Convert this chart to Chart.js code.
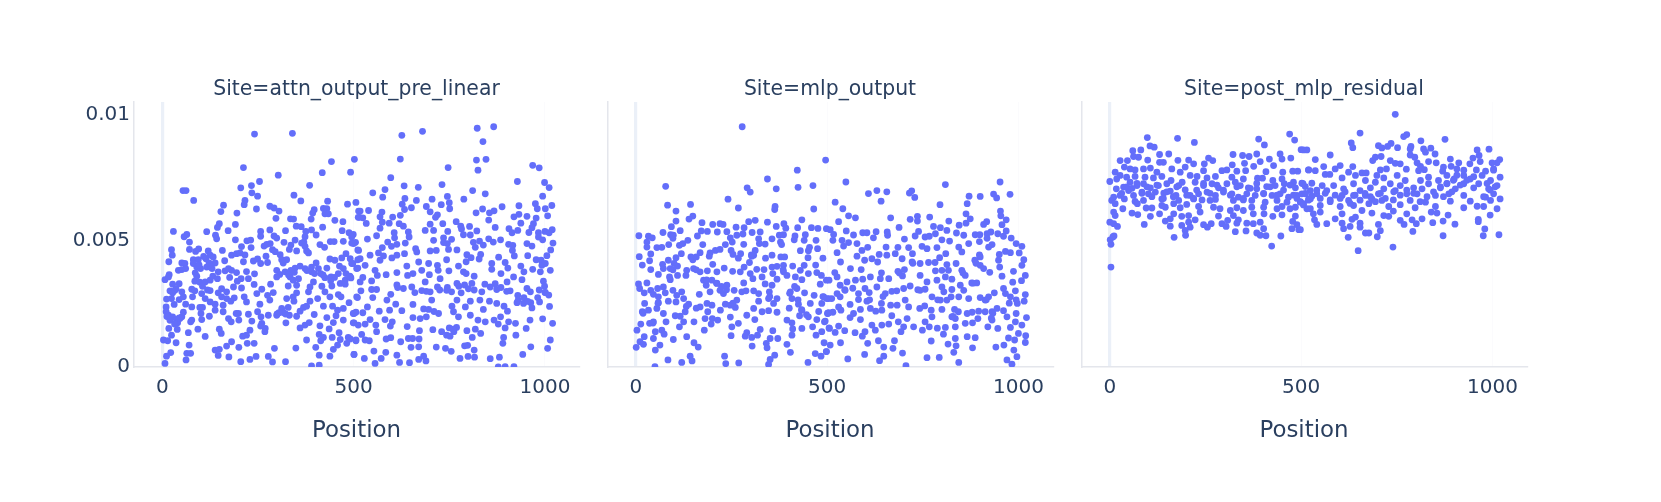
<!DOCTYPE html>
<html><head><meta charset="utf-8">
<script src="https://cdn.jsdelivr.net/npm/chart.js@4/dist/chart.umd.js"></script>
<style>html,body{margin:0;padding:0;background:#fff;width:1661px;height:502px;overflow:hidden}canvas{position:absolute;top:0}</style>
</head><body>
<canvas id="c0"></canvas><canvas id="c1"></canvas><canvas id="c2"></canvas>
<script>
// Point values: [Position, value in thousandths]
const attnPoints=[[241,9.23],[340,9.26],[442,8.14],[502,8.23],[212,7.9],[303,7.6],[418,7.7],[492,7.72],[254,7.35],[233,7.19],[205,7.1],[385,7.2],[54,6.99],[62,6.99],[82,6.6],[234,6.9],[249,6.77],[344,6.81],[216,6.6],[214,6.43],[362,6.58],[432,6.57],[484,6.45],[506,6.52],[160,6.41],[153,6.16],[195,6.1],[246,6.26],[281,6.37],[292,6.3],[305,6.18],[397,6.23],[393,6.1],[421,6.28],[430,6.27],[425,6.07],[434,6.07],[513,6.18],[512,5.93],[297,5.89],[335,5.87],[343,5.86],[389,5.86],[451,5.81],[472,5.76],[149,5.68],[144,5.53],[191,5.65],[350,5.58],[363,5.56],[419,5.54],[29,5.37],[116,5.36],[172,5.4],[257,5.37],[281,5.43],[322,5.4],[375,5.37],[390,5.43],[470,5.4],[488,5.32],[499,5.25],[64,5.25],[57,5.16],[71,4.95],[139,5.22],[142,5.08],[257,5.18],[292,5.19],[299,5.11],[402,5.23],[191,5.04],[221,5],[231,5.03],[347,5.03],[373,5.16],[370,4.95],[439,4.97],[449,4.97],[473,4.98],[495,4.91],[505,4.94],[511,4.64],[24,4.65],[26,4.43],[71,4.66],[87,4.58],[95,4.68],[120,4.6],[125,4.43],[157,4.62],[207,4.77],[232,4.73],[266,4.79],[273,4.86],[282,4.89],[288,4.65],[295,4.57],[318,4.94],[336,4.83],[332,4.66],[351,4.6],[364,4.91],[373,4.78],[377,4.6],[382,4.52],[412,4.85],[424,4.74],
[17,4.17],[51,4.12],[59,4.1],[81,4.25],[94,4.25],[114,4.29],[133,4.36],[138,4.12],[163,4.21],[181,4.43],[194,4.49],[203,4.52],[216,4.44],[212,4.17],[238,4.2],[249,4.28],[271,4.39],[257,4.1],[275,4.14],[308,4.45],[312,4.25],[325,4.25],[316,4.12],[438,4.28],[451,4.23],[469,4.32],[480,4.49],[491,4.29],[498,4.1],[511,4.25],[42,3.83],[51,3.86],[61,3.9],[81,4.1],[90,3.96],[86,3.73],[100,3.9],[116,3.96],[126,3.96],[122,4.12],[146,3.77],[164,3.81],[173,3.9],[181,3.83],[194,3.74],[220,3.78],[241,3.69],[299,3.83],[307,3.67],[321,3.77],[336,3.83],[347,3.92],[360,4],[373,3.9],[390,3.96],[402,4.12],[408,3.9],[430,3.92],[463,4],[473,3.9],[508,3.9],[18,3.66],[7,3.46],[16,3.57],[27,3.28],[85,3.4],[98,3.36],[112,3.37],[125,3.44],[132,3.6],[144,3.5],[206,3.5],[225,3.5],[240,3.27],[186,3.17],[207,3.13],[299,3.57],[334,3.57],[342,3.44],[356,3.5],[390,3.77],[414,3.7],[425,3.54],[441,3.57],[460,3.7],[465,3.31],[478,3.44],[491,3.57],[351,3.24],[329,3.21],[395,3.37],[386,3.17],[417,3.2],[443,3.21],[478,3.28],[517,3.37],[20,3.02],[27,2.94],[33,3.04],[51,2.98],[77,3.08],[85,3.02],[103,2.91],[125,3.03],[146,2.94],[155,3.1],[168,2.98],[260,3.08],[283,3.28],[247,2.91],[290,2.95],[351,2.94],[382,2.98],[425,2.98],[24,2.71],[11,2.69],[44,2.67],[55,2.78],[79,2.78],[112,2.71],[168,2.71],[179,2.61],[188,2.74],[214,2.78],[220,2.58],[275,2.84],[281,2.65],[325,2.71],[342,2.78],[344,2.61],[438,2.78],[460,2.87],[467,2.78],[386,2.61],[406,2.71],[508,2.78],[31,2.48],[61,2.49],[77,2.38],[98,2.36],[105,2.36],[125,2.58],[138,2.49],[159,2.45],[255,2.49],[329,2.36],[488,2.55],[421,2.41],[445,2.41],[10,2.38],[10,2.19],[16,2.05],[27,1.99],[37,1.86],[51,1.99],[55,2.17],[46,1.92],[40,1.75],[101,2.12],[123,2.01],[138,2.25],[159,2.19],[193,2.12],[199,2.12],[225,2.09],[249,2.19],[258,1.99],[277,2.05],[299,2.05],[312,2.32],[316,2.16],[332,2.05],[351,2.01],[360,2.21],[369,2.36],[377,2.41],[397,2.08],[430,1.96],[458,2.25],[473,2.32],[454,2.03],[499,2.12],[506,2.17],[77,1.86],[74,1.79],[103,1.88],[173,1.92],[180,1.79],[200,1.86],[234,1.82],[260,1.73],[269,1.53],[268,1.4],[257,1.62],[323,1.75],[373,1.66],[384,1.76],[360,1.55],[412,1.63],[447,1.76],[473,1.86],[501,1.75],[512,1.66],[17,1.53],[39,1.49],[68,1.36],[93,1.5],[112,1.21],[149,1.5],[154,1.33],[229,1.46],[220,1.26],[210,1.22],[436,1.51],[462,1.36],[410,1.29],[444,1.17],[421,1.17],[486,1.17],[377,1.07],[3,1.07],[14,1.04],[24,1.26],[36,.96],[70,.87],[414,1.04],[465,1.09],[506,1.07],[181,1],[168,.83],[200,.78],[222,.94],[240,.94],[293,.74],[349,.75],[401,.78],[458,.87],[447,.7],[482,.94],[138,.67],[149,.7],[64,.54],[74,.54],[22,.57],[11,.43],[146,.46],[174,.4],[62,.28],[7,.14],[205,.21],[229,.3],[245,.42],[277,.42],[288,.2],[322,.21],[410,.47],[438,.43],[501,.5],[390,.04],[410,.07],
[626,9.18],[680,9.34],[823,9.46],[866,9.52],[838,8.93],[622,8.24],[821,8.2],[846,8.23],[747,7.9],[825,7.8],[968,7.99],[985,7.89],[597,7.5],[928,7.35],[999,7.31],[1011,7.11],[632,7.18],[669,7.12],[731,7.23],[811,6.99],[844,6.86],[550,6.9],[582,7.03],[576,6.73],[634,6.68],[664,6.6],[705,6.65],[745,6.76],[788,6.65],[750,6.51],[994,6.77],[627,6.45],[633,6.24],[651,6.31],[690,6.36],[700,6.15],[729,6.43],[751,6.27],[837,6.26],[820,6.11],[855,6.11],[867,6.19],[888,6.35],[932,6.39],[975,6.47],[980,6.27],[1001,6.27],[1018,6.4],[1007,5.99],[517,6.18],[539,6.2],[515,5.93],[524,5.91],[533,5.69],[574,6.14],[569,5.95],[602,5.94],[622,6.01],[593,5.7],[575,5.74],[719,6.03],[714,5.93],[853,5.82],[919,5.95],[932,6.05],[953,5.97],[977,5.9],[937,5.7],[970,5.68],[966,5.52],[768,5.76],[733,5.68],[700,5.66],[780,5.58],[782,5.47],[803,5.57],[870,5.53],[822,5.39],[906,5.48],[914,5.32],[929,5.41],[958,5.33],[1019,5.44],[1000,5.37],[1011,5.32],[983,5.32],[619,5.68],[630,5.58],[569,5.5],[560,5.2],[606,5.32],[643,5.35],[687,5.41],[709,5.41],[746,5.37],[787,5.24],[805,5.23],[536,5.07],[495,5.15],[607,5.12],[645,5.15],[709,5.02],[735,5.12],[756,5.06],[853,5.08],[884,5.04],[813,4.94],[829,4.99],[839,4.83],[865,4.95],[818,4.74],[905,4.86],[916,4.82],[953,4.89],[966,4.79],[983,5.15],[994,5.04],[1021,4.91],[1015,4.64],[589,4.95],[575,4.73],[599,4.78],[613,4.86],[635,4.91],[662,4.69],[665,4.56],[700,4.6],[716,4.62],[745,4.89],[735,4.93],[770,4.64],[748,4.66],[500,4.89],[513,4.62],[517,4.29],[543,4.43],[565,4.52],[578,4.4],[600,4.32],[613,4.43],[633,4.49],[796,4.45],[807,4.33],[832,4.46],[828,4.28],[879,4.35],[915,4.62],[920,4.4],[955,4.41],[1005,4.41],[977,4.25],[990,4.23],[495,4.1],[530,4.03],[569,4.23],[556,3.83],[511,3.92],[639,4],[670,4.16],[696,4.1],[678,3.83],[719,4.03],[743,4.25],[774,4],[794,4.17],[861,4.1],[896,4.14],[937,4],[968,3.87],[992,4.03],[1014,3.83],[861,3.87],[903,3.92],[945,3.77],[988,3.77],[1001,4.1],[613,3.74],[641,3.63],[585,3.66],[562,3.63],[524,3.55],[493,3.53],[547,3.41],[655,3.7],[698,3.66],[687,3.37],[721,3.83],[726,3.5],[749,3.81],[787,3.77],[794,3.7],[815,3.6],[809,3.31],[885,3.7],[918,3.57],[901,3.37],[940,3.46],[996,3.4],[770,3.31],[999,3.2],[613,3.25],[630,3.11],[652,3.17],[678,3.03],[700,2.98],[719,3.17],[743,3.04],[756,2.98],[781,2.94],[547,3.07],[519,3.02],[560,3.07],[510,2.75],[550,2.75],[597,2.88],[587,2.65],[843,3.28],[857,3.17],[835,2.98],[874,3.07],[909,3.02],[953,3.11],[962,2.98],[1001,2.96],[981,2.75],[929,2.84],[704,2.65],[770,2.65],[805,2.61],[792,2.38],[757,2.41],[830,2.65],[855,2.61],[874,2.52],[893,2.41],[927,2.55],[944,2.52],[963,2.55],[986,2.58],[1012,2.4],[839,2.28],[902,2.21],[966,2.34],[536,2.38],[610,2.49],[655,2.48],[594,2.25],[626,2.23],[567,2.21],[524,2.15],[501,2.12],[683,2.3],[696,2.28],[655,1.96],[674,1.92],[690,1.99],[722,2.12],[761,2.19],[774,1.99],[805,2.05],[582,1.88],[601,1.79],[543,1.88],[499,1.75],[530,1.7],[558,1.66],[596,1.62],[825,1.86],[844,1.79],[867,1.86],[884,1.99],[905,1.79],[923,1.73],[961,1.86],[994,1.91],[1020,1.73],[878,1.7],[896,1.55],[672,1.44],[707,1.48],[730,1.4],[743,1.26],[769,1.57],[762,1.4],[752,1.22],[796,1.44],[818,1.5],[832,1.33],[951,1.53],[924,1.26],[560,1.4],[521,1.29],[530,1.07],[541,1.04],[491,1.11],[585,1.11],[597,1.16],[506,1.04],[623,1],[643,1.13],[654,1.13],[671,1.11],[810,1.17],[892,1.17],[890,.94],[1014,1.07],[670,.8],[650,.78],[716,.79],[740,.74],[755,.62],[790,.84],[798,.86],[815,.67],[963,.8],[1007,.74],[553,.63],[584,.58],[501,.5],[613,.47],[942,.5],[528,.34],[572,.34],[670,.3],[683,.43],[689,.24],[556,.14],[620,.18],[646,.17],[778,.34],[799,.42],[816,.39],[857,.33],[881,.39],[896,.01],[878,0],[919,.01]];
const attnClumps=[[12,2],[20,1.85],[32,1.7],[44,1.95],[36,3.1],[44,3.3],[90,3.6],[105,3.2],[118,3.05],[130,3.9],[96,4.05],[108,4.38],[176,3.55],[196,3.4],[155,2.78],[330,3.65],[345,3.75],[300,2.1],[305,2.15],[322,2.1],[378,3.82],[398,3.7],[420,3.65],[450,3.55],[440,3.42],[480,3.7],[490,3.6],[615,3.15],[660,2.95],[690,3],[725,3.05],[745,3.15],[775,3.2],[790,3.25],[800,3.1],[815,3.05],[930,2.65],[945,2.75],[955,2.6],[900,3],[870,3.3],[885,3.15],[1000,2.95],[985,3.05],[1010,2.85],[640,1.6],[710,2.2],[750,1.55],[760,1.5]];

const mlpPoints=[[278,9.52],[496,8.2],[422,7.8],[344,7.45],[78,7.16],[291,7.1],[299,6.93],[367,7.06],[424,7.12],[463,7.19],[241,6.65],[83,6.41],[143,6.44],[268,6.3],[364,6.36],[363,6.24],[465,6.26],[105,6.18],[149,5.98],[139,5.86],[105,5.78],[93,5.56],[173,5.72],[201,5.65],[220,5.68],[228,5.65],[295,5.76],[312,5.81],[344,5.74],[434,5.83],[387,5.68],[262,5.54],[283,5.52],[367,5.57],[392,5.5],[423,5.52],[459,5.52],[476,5.49],[498,5.48],[8,5.2],[71,5.33],[116,5.4],[171,5.39],[187,5.37],[213,5.35],[238,5.36],[280,5.27],[304,5.33],[325,5.35],[91,5.24],[98,5.22],[33,5.18],[43,5.12],[29,4.95],[161,5.19],[264,5.22],[247,5.12],[321,5.08],[386,5.24],[375,5.22],[416,5.19],[443,5.24],[414,5.04],[440,5.02],[471,5.02],[356,5.08],[97,5.1],[136,5.02],[114,4.82],[123,4.89],[86,4.85],[29,4.75],[55,4.73],[68,4.74],[175,4.85],[234,4.85],[252,4.95],[282,4.86],[338,4.87],[323,4.89],[378,4.95],[381,4.85],[454,4.74],[475,4.69],[119,4.49],[39,4.48],[9,4.37],[36,4.21],[17,4.04],[105,4.33],[144,4.36],[168,4.53],[194,4.52],[208,4.62],[220,4.66],[249,4.62],[254,4.46],[274,4.49],[268,4.31],[312,4.62],[308,4.43],[303,4.39],[339,4.31],[356,4.43],[379,4.36],[389,4.36],[430,4.61],[451,4.61],[450,4.33],[489,4.31],[149,4.25],[158,4.36],[192,4.39],[201,4.07],[85,4.23],[70,4.07],[100,4.1],[109,4],[39,3.86],[90,3.9],[72,3.9],[59,3.67],[109,3.63],[90,3.46],[133,3.83],[131,3.63],[151,3.9],[168,3.77],[187,3.81],[212,3.77],[231,3.92],[253,3.79],[273,3.77],[283,3.96],[297,4.14],[316,3.87],[335,3.86],[330,3.57],[299,3.7],[306,3.5],[356,3.96],[369,3.99],[358,3.7],[386,4.03],[410,4],[386,3.77],[395,3.63],[430,3.83],[440,4.03],[470,4.04],[451,3.7],[473,3.74],[485,3.63],[417,3.57],[434,3.46],[498,3.44],[369,3.48],[7,3.29],[29,3.33],[22,2.94],[10,3.11],[39,3.04],[57,3.11],[72,3.17],[46,2.88],[59,2.78],[77,2.94],[88,3.57],[97,3.04],[120,2.98],[107,2.84],[125,2.71],[85,2.61],[105,2.58],[166,2.88],[177,3.44],[184,3.24],[199,3.44],[194,2.98],[212,3.31],[220,3.04],[229,2.91],[238,3.24],[257,3.04],[277,2.98],[288,3.02],[282,3.33],[308,3.02],[321,2.91],[338,3.29],[356,3.24],[349,2.98],[347,2.71],[321,2.61],[369,2.71],[360,2.52],[404,2.98],[421,3.11],[408,2.71],[441,2.94],[466,2.84],[491,2.78],[482,3.28],[456,2.52],[486,2.52],[504,2.71],[23,2.52],[17,2.19],[33,2.25],[55,2.32],[59,2.55],[72,2.12],[138,2.49],[129,2.19],[168,2.38],[186,2.52],[199,2.45],[188,2.19],[221,2.25],[234,2.49],[260,2.36],[264,2.65],[247,2.45],[308,2.32],[290,2.05],[330,2.19],[347,2.23],[369,2.17],[401,2.33],[425,2.49],[434,2.25],[451,1.99],[478,2.2],[501,2.12],[103,2.03],[116,2.01],[181,1.92],[200,1.92],[214,1.86],[247,1.98],[311,1.88],[395,1.86],[408,1.75],[428,2.03],[473,1.88],[493,1.79],[13,1.7],[3,1.46],[36,1.73],[46,1.79],[79,1.79],[125,1.79],[114,1.59],[152,1.79],[197,1.7],[268,1.73],[251,1.59],[179,1.46],[68,1.46],[51,1.4],[325,1.49],[358,1.44],[410,1.51],[434,1.53],[462,1.59],[486,1.4],[506,1.53],[74,1.3],[46,1.13],[22,1.2],[11,1],[1,.78],[20,.9],[98,1.09],[133,1.2],[152,.96],[163,.79],[63,.87],[51,.67],[249,1.24],[290,1.36],[286,1.22],[303,1.17],[318,1.26],[351,1.13],[341,.94],[371,1.13],[408,1.26],[395,.9],[471,1.26],[492,.96],[304,.83],[343,.76],[404,.58],[498,.61],[84,.28],[120,.18],[142,.43],[147,.24],[232,.43],[235,.13],[269,.16],[363,.47],[351,.3],[347,.1],[450,.18],[469,.53],[484,.43],[50,.01],
[549,7.33],[608,6.87],[630,6.99],[656,6.94],[641,6.57],[521,6.53],[715,6.89],[721,6.98],[729,6.72],[809,7.23],[795,6.43],[900,6.76],[871,6.77],[935,6.85],[943,6.7],[952,7.33],[978,6.84],[866,6.47],[541,6.27],[556,5.99],[574,5.91],[530,5.76],[666,5.91],[717,5.85],[736,5.97],[736,5.78],[768,5.94],[818,5.78],[863,6.07],[874,5.87],[863,5.7],[845,5.62],[953,6.18],[954,5.99],[968,5.83],[957,5.64],[917,5.76],[909,5.65],[968,5.39],[550,5.39],[508,5.44],[517,5.25],[593,5.32],[604,5.32],[628,5.36],[621,5.12],[657,5.35],[658,5.22],[569,5.23],[688,5.53],[702,5.07],[739,5.37],[730,5.19],[756,5.15],[767,5.18],[778,5.57],[796,5.52],[783,5.28],[800,5.04],[813,5.41],[820,4.99],[838,5.31],[857,5.22],[887,5.24],[899,5.24],[898,4.97],[870,4.89],[918,5.28],[928,5.35],[918,5.1],[946,5.28],[961,5.18],[981,5.11],[931,4.85],[922,4.75],[994,4.89],[1009,4.78],[515,5.02],[539,5.02],[543,4.79],[556,4.93],[578,4.89],[591,4.62],[606,4.74],[526,4.53],[654,4.75],[748,4.78],[761,4.69],[787,4.73],[844,4.75],[852,4.56],[685,4.74],[713,4.73],[723,4.49],[636,4.46],[656,4.43],[678,4.49],[696,4.29],[810,4.49],[794,4.33],[950,4.46],[966,4.58],[979,4.53],[1002,4.52],[1014,4.25],[535,4.16],[561,3.9],[578,4.39],[598,4.23],[617,4.29],[632,4.16],[722,4.16],[743,4.1],[765,4.14],[782,4.14],[837,4.1],[813,4.06],[900,4.36],[886,4.23],[900,4.03],[909,3.9],[948,4.23],[951,3.96],[1009,4.03],[589,3.86],[505,3.44],[520,3.74],[526,3.57],[534,3.24],[552,3.37],[574,3.44],[593,3.48],[613,3.57],[642,3.73],[639,3.5],[661,3.5],[685,3.79],[702,3.86],[697,3.61],[743,3.63],[761,3.37],[783,3.81],[800,3.83],[817,3.83],[826,3.48],[809,3.57],[852,3.83],[861,3.63],[878,3.33],[891,3.33],[925,3.75],[957,3.6],[987,3.79],[1018,3.63],[1008,3.42],[985,3.36],[630,3.17],[610,2.95],[599,3.11],[582,2.91],[547,3.04],[526,2.91],[512,2.71],[499,2.71],[534,2.78],[682,3.02],[669,3],[652,2.91],[700,3.11],[717,3.21],[743,3.04],[756,3.08],[787,3.44],[800,3.17],[805,2.98],[826,3.07],[848,3.24],[857,3.04],[796,2.65],[774,2.78],[813,2.65],[824,2.78],[844,2.78],[870,2.71],[900,2.75],[913,2.65],[922,2.78],[937,2.94],[961,3.11],[966,2.91],[992,3.02],[979,2.78],[1018,2.87],[1015,2.61],[997,2.52],[582,2.67],[604,2.61],[560,2.48],[530,2.38],[504,2.15],[515,2.17],[536,2.25],[642,2.52],[666,2.45],[613,2.32],[587,2.28],[627,2.21],[643,2.25],[683,2.45],[704,2.65],[713,2.38],[742,2.32],[755,2.42],[772,2.25],[800,2.28],[833,2.28],[826,1.99],[843,2.19],[866,2.12],[879,2.17],[896,2.21],[913,2.19],[931,2.19],[944,2.32],[961,2.23],[931,1.86],[970,1.99],[994,2.12],[1021,1.96],[560,1.96],[569,2.12],[669,2.03],[587,1.88],[709,1.92],[774,1.99],[835,1.92],[495,1.82],[894,1.92],[1009,1.66],[643,1.66],[661,1.7],[686,1.79],[700,1.59],[726,1.59],[617,1.66],[756,1.79],[767,1.59],[788,1.54],[809,1.57],[835,1.59],[861,1.73],[880,1.75],[920,1.59],[946,1.53],[979,1.57],[992,1.79],[505,1.55],[530,1.62],[546,1.44],[521,1.37],[573,1.36],[599,1.4],[626,1.46],[693,1.4],[749,1.46],[804,1.3],[1000,1.33],[1019,1.24],[508,.87],[535,.96],[592,1.22],[606,.94],[634,1.04],[676,1.04],[772,1.03],[835,1.13],[866,1.2],[887,1.16],[974,1.15],[990,1.07],[1018,.97],[648,.79],[672,.74],[816,.91],[837,.84],[880,.76],[941,.79],[962,.87],[498,.61],[697,.55],[831,.58],[988,.67],[554,.32],[598,.5],[648,.43],[637,.25],[761,.37],[793,.38],[844,.18],[970,.28],[996,.41],[983,.11],[706,.05]];
const mlpClumps=[[224,3.19],[237,3.06],[211,3.32],[402,2.92],[415,3.19],[424,2.66],[433,2.27],[446,2.07],[489,2.79],[502,2.13],[546,3.06],[567,3.12],[611,2.66],[646,2.79],[737,3.06],[789,2.66],[855,3.72],[889,4.11],[916,2.66],[933,2.13],[881,3.32],[97,3.85],[158,3.85],[185,3.45],[254,2.53],[302,4.44],[385,3.85],[45,1.74],[19,2.13],[58,2.53],[132,2.4],[158,2.33],[350,2.79],[829,2],[929,1.94],[898,4.44],[724,4.11],[689,3.72],[976,2.53],[994,2.66]];

const residPoints=[[3,3.96],[0,7.35],[3,4.86],[1,5.04],[8,5.15],[11,5.19],[0,5.74],[10,5.68],[20,5.57],[98,9.09],[105,8.76],[116,8.71],[177,9.06],[221,8.9],[81,8.6],[60,8.57],[62,8.34],[75,8.31],[130,8.42],[154,8.44],[27,8.18],[46,8.18],[99,8.2],[140,8.11],[178,8.19],[206,8.2],[258,8.28],[269,8.18],[322,8.42],[347,8.38],[364,8.34],[384,8.44],[389,9.03],[404,8.8],[470,9.23],[483,8.99],[500,8.61],[515,8.6],[445,8.44],[473,8.28],[450,8.24],[417,8.24],[393,8.14],[352,8.07],[376,7.95],[320,8.01],[247,8.05],[219,8.05],[130,8.11],[14,7.72],[38,7.92],[53,7.85],[66,7.81],[88,7.85],[106,7.88],[123,7.72],[162,7.85],[184,7.72],[197,7.92],[245,7.78],[293,7.78],[306,7.81],[332,7.76],[355,7.78],[428,7.98],[408,7.74],[452,7.72],[478,7.76],[491,7.76],[519,7.81],[27,7.59],[18,7.45],[44,7.52],[66,7.55],[92,7.52],[114,7.49],[136,7.55],[160,7.39],[189,7.32],[210,7.59],[228,7.55],[254,7.49],[276,7.55],[319,7.52],[349,7.45],[386,7.48],[399,7.48],[426,7.39],[450,7.45],[480,7.32],[502,7.28],[17,7.06],[36,7.13],[53,7.32],[71,7.19],[88,7.26],[106,7.1],[127,7.19],[149,7.26],[180,7.19],[197,7.02],[223,7.32],[245,7.19],[267,7.26],[284,7.1],[306,7.26],[328,7.32],[341,7.19],[362,7.1],[384,7.06],[410,7.15],[432,7.19],[456,7.26],[485,7.1],[511,7.15],[10,6.73],[27,6.8],[49,6.99],[62,6.8],[84,6.93],[101,6.86],[119,6.93],[141,6.89],[158,6.97],[173,6.8],[210,6.8],[232,6.86],[254,6.93],[276,6.8],[297,6.93],[319,6.86],[336,6.73],[358,6.86],[380,6.8],[402,6.86],[424,6.8],[445,6.86],[467,6.73],[489,6.8],[511,6.86],[5,6.6],[14,6.47],[38,6.66],[66,6.56],[88,6.6],[136,6.66],[180,6.6],[167,6.47],[219,6.66],[241,6.62],[262,6.6],[276,6.64],[323,6.6],[349,6.62],[371,6.6],[406,6.53],[437,6.6],[463,6.53],[498,6.53],[524,6.66],[10,6.14],[34,6.27],[14,6],[72,6.47],[95,6.3],[110,6.3],[145,6.33],[136,6.4],[201,6.44],[184,6.31],[232,6.36],[271,6.33],[288,6.27],[315,6.2],[332,6.31],[349,6.2],[371,6.33],[402,6.33],[437,6.27],[450,6.36],[471,6.27],[485,6.33],[515,6.27],[58,6.1],[73,6.04],[106,5.97],[130,6.07],[167,6.07],[236,6.14],[284,5.98],[323,6],[375,6.07],[403,6.07],[426,5.97],[450,6.03],[485,5.98],[188,5.97],[206,6],[90,5.65],[145,5.78],[158,5.87],[158,5.58],[188,5.61],[206,5.74],[223,5.83],[210,5.54],[197,5.41],[245,5.64],[255,5.54],[265,5.68],[293,5.68],[308,5.81],[304,5.57],[336,5.83],[332,5.7],[358,5.7],[375,5.68],[393,5.74],[478,5.77],[489,5.64],[476,5.48],[494,5.44],[402,5.48],[328,5.36],[356,5.39],[384,5.31],[393,5.22],[408,5.2],[168,5.14],[198,5.22],[447,5.19],[423,4.79],
[746,10.01],[654,9.27],[631,8.88],[635,8.69],[776,9.21],[768,9.13],[702,8.77],[711,8.68],[726,8.74],[735,8.86],[752,8.69],[787,8.74],[785,8.64],[813,8.96],[876,9.02],[839,8.67],[820,8.64],[825,8.51],[850,8.44],[960,8.6],[991,8.63],[576,8.4],[537,8.22],[506,8.6],[694,8.31],[709,8.34],[687,8.18],[785,8.4],[797,8.31],[733,8.18],[890,8.24],[833,8.14],[853,8.09],[965,8.38],[968,8.14],[949,8.28],[1019,8.22],[1012,8.09],[999,8.09],[941,8.05],[912,8.09],[803,8.09],[559,7.94],[602,7.98],[635,7.94],[746,8.07],[759,8.05],[775,7.84],[812,7.95],[822,7.82],[872,7.92],[892,7.95],[520,7.81],[537,7.78],[563,7.63],[589,7.85],[624,7.72],[659,7.69],[670,7.69],[707,7.81],[723,7.85],[807,7.78],[870,7.76],[907,7.85],[958,7.81],[982,7.76],[1003,7.85],[1020,7.52],[575,7.63],[642,7.59],[698,7.59],[751,7.59],[833,7.52],[881,7.59],[925,7.59],[973,7.59],[607,7.49],[668,7.39],[716,7.49],[772,7.39],[812,7.39],[859,7.39],[900,7.45],[942,7.45],[995,7.39],[528,7.28],[585,7.19],[637,7.26],[694,7.32],[733,7.26],[759,7.19],[833,7.26],[881,7.26],[925,7.26],[964,7.26],[1012,7.19],[505,7.26],[555,7.19],[611,7.06],[681,7.1],[716,7.06],[794,7.1],[816,7.06],[864,7.1],[903,7.06],[951,7.1],[990,7.06],[524,6.99],[567,6.99],[654,6.99],[746,6.99],[502,6.86],[541,6.86],[607,6.8],[637,6.8],[668,6.8],[702,6.86],[776,6.86],[803,6.86],[851,6.8],[886,6.86],[925,6.8],[1003,6.86],[982,6.73],[1020,6.66],[520,6.66],[576,6.62],[624,6.6],[685,6.66],[741,6.62],[785,6.6],[825,6.53],[890,6.57],[942,6.57],[995,6.6],[506,6.47],[550,6.4],[602,6.36],[637,6.4],[677,6.47],[711,6.6],[759,6.43],[798,6.31],[851,6.36],[925,6.31],[960,6.37],[977,6.36],[1012,6.27],[729,6.36],[741,6.18],[524,6.27],[659,6.2],[685,6.1],[840,6.14],[855,6.1],[532,6.07],[550,6.14],[589,5.87],[607,6.07],[716,6],[729,5.97],[776,6.07],[884,6.02],[994,6.02],[535,5.83],[633,5.85],[642,5.94],[759,5.81],[790,5.83],[816,5.87],[541,5.65],[567,5.68],[607,5.7],[628,5.57],[654,5.7],[702,5.65],[769,5.65],[801,5.68],[844,5.72],[871,5.78],[902,5.66],[963,5.85],[963,5.76],[611,5.48],[654,5.54],[707,5.4],[792,5.37],[980,5.47],[498,5.44],[668,5.31],[677,5.31],[699,5.16],[623,5.14],[871,5.2],[976,5.2],[1017,5.24],[649,4.61],[740,4.75]];
const residClumps=[[480,6.81],[489,6.68],[498,6.55],[511,6.88],[519,6.61],[528,6.77],[506,6.42],[541,7.01],[550,6.68],[563,6.88],[576,6.55],[589,6.81],[602,6.68],[615,6.94],[628,6.48],[641,6.81],[654,6.61],[667,6.88],[681,6.75],[694,6.55],[707,6.88],[720,6.68],[742,6.94],[759,6.81],[776,7.01],[794,6.88],[811,6.55],[829,6.75],[846,6.94],[864,7.14],[881,7.27],[898,7.4],[916,7.21],[933,7.4],[951,7.54],[907,7.6],[925,7.8],[894,6.94],[872,6.75],[977,6.75],[994,7.01],[1007,7.14],[986,7.27],[1003,7.8],[262,6.88],[280,7.21],[297,7.01],[315,6.81],[332,7.14],[349,6.68],[367,7.08],[384,7.27],[402,6.88],[419,7.14],[437,6.81],[454,7.01],[471,7.21],[44,7.14],[71,7.27],[97,7.14],[123,7.21],[149,6.94],[175,7.14],[201,6.81],[227,7.01],[245,7.27],[31,6.88],[58,7.08],[84,6.88],[110,6.75],[140,6.68],[166,6.75],[219,6.68]];

const subplotTitles=["Site=attn_output_pre_linear","Site=mlp_output","Site=post_mlp_residual"];
const xAxisTitle="Position";
const xTicks=[0,500,1000];
const yTicks=[0,0.005,0.01];
const xRange=[-74,1089];
const yRange=[0,0.0105];
const seriesByPanel=[attnPoints.concat(attnClumps),mlpPoints.concat(mlpClumps),residPoints.concat(residClumps)];

const TEXT='#2a3f5f', MARK='#636efa', ZERO='#EBF0F8', FAINT='#fbfbfd', AXIS='#e4e6ec';
const FONT='"DejaVu Sans", Verdana, sans-serif';
const PLOT_W=445, PLOT_TOP=102, PLOT_BOTTOM=367;
const panels=[{canvasLeft:0,canvasW:600,plotLeft:134},{canvasLeft:590,canvasW:480,plotLeft:607.5},{canvasLeft:1065,canvasW:480,plotLeft:1081.5}];

panels.forEach((p,i)=>{
  const el=document.getElementById('c'+i);
  el.width=p.canvasW; el.height=502; el.style.left=p.canvasLeft+'px';
  new Chart(el,{
    type:'scatter',
    data:{datasets:[{data:seriesByPanel[i].map(([x,y])=>({x,y:y/1000})),backgroundColor:MARK,borderWidth:0,pointRadius:3.4,pointHoverRadius:3.4,clip:0}]},
    options:{
      responsive:false,animation:false,
      layout:{padding:{left:0,top:0,bottom:0,right:p.canvasW-(p.plotLeft-p.canvasLeft)-PLOT_W}},
      plugins:{legend:{display:false},tooltip:{enabled:false},
        title:{display:true,text:subplotTitles[i],color:TEXT,fullSize:false,font:{family:FONT,size:20.4,weight:'normal',lineHeight:1.2},padding:{top:77,bottom:PLOT_TOP-77-24.48}}},
      scales:{
        x:{type:'linear',min:xRange[0],max:xRange[1],
          afterBuildTicks:s=>{s.ticks=xTicks.map(value=>({value}))},
          afterFit:s=>{s.height=502-PLOT_BOTTOM},
          border:{color:AXIS,width:1.5},
          grid:{drawTicks:false,color:c=>c.tick.value===0?ZERO:FAINT,lineWidth:c=>c.tick.value===0?3.2:1},
          ticks:{color:TEXT,font:{family:FONT,size:20},padding:9,maxRotation:0,callback:v=>String(v)},
          title:{display:true,text:xAxisTitle,color:TEXT,font:{family:FONT,size:22.9},padding:{top:0,bottom:57}}},
        y:{type:'linear',min:yRange[0],max:yRange[1],
          afterBuildTicks:s=>{s.ticks=yTicks.map(value=>({value}))},
          afterFit:s=>{s.width=p.plotLeft-p.canvasLeft},
          border:{color:AXIS,width:1.5},
          grid:{display:false,drawTicks:false},
          ticks:{display:i===0,color:TEXT,font:{family:FONT,size:20},padding:4,callback:v=>String(v)}}
      }
    }
  });
});
</script>
</body></html>
